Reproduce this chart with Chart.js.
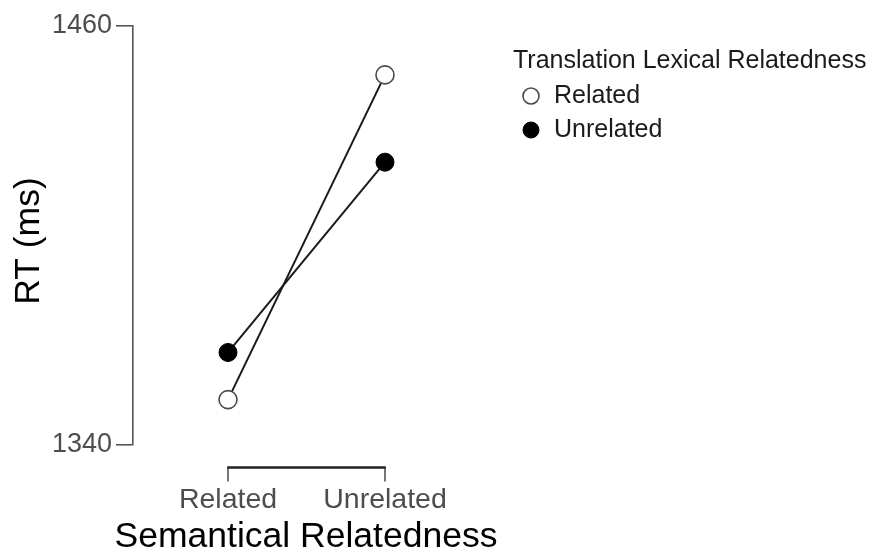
<!DOCTYPE html>
<html>
<head>
<meta charset="utf-8">
<script src="https://cdn.jsdelivr.net/npm/chart.js@4.4.1/dist/chart.umd.min.js"></script>
<style>
  html, body { margin: 0; padding: 0; background: #ffffff; }
  #wrap { width: 869px; height: 554px; }
</style>
</head>
<body>
<div id="wrap"><canvas id="c" width="869" height="554"></canvas></div>
<script>
// Semantic relatedness conditions (x axis)
const semanticLevels = ['Related', 'Unrelated'];
// Translation lexical relatedness groups (legend)
const translationLevels = ['Related', 'Unrelated'];
// Mean RT (ms) per semantic condition, one array per translation group
const rtTranslationRelated = [1353, 1446];
const rtTranslationUnrelated = [1366.5, 1421];
// Y axis range and tick labels
const yTicks = [1340, 1460];

const FONT = '"Liberation Sans", Arial, Helvetica, sans-serif';
const INK = '#1a1a1a';
const GREY = '#4d4d4d';

const groupStyles = [
  { fill: '#ffffff', stroke: '#4a4a4a', strokeWidth: 1.6 },
  { fill: '#000000', stroke: '#000000', strokeWidth: 1 }
];
const groupValues = [rtTranslationRelated, rtTranslationUnrelated];

const datasets = translationLevels.map((name, g) => ({
  label: name,
  data: semanticLevels.map((s, i) => ({ x: i + 1, y: groupValues[g][i] })),
  borderColor: INK,
  borderWidth: 2,
  pointRadius: 9,
  pointHoverRadius: 9,
  pointBackgroundColor: groupStyles[g].fill,
  pointBorderColor: groupStyles[g].stroke,
  pointBorderWidth: groupStyles[g].strokeWidth,
  tension: 0
}));

// Axis titles, bracket-style x axis and the legend block
const decorations = {
  id: 'decorations',
  afterDraw(chart) {
    const ctx = chart.ctx;
    const xs = chart.scales.x;
    const x1 = xs.getPixelForValue(1);
    const x2 = xs.getPixelForValue(semanticLevels.length);
    ctx.save();

    // x axis drawn only across the category range
    const axisY = 467.5;
    ctx.strokeStyle = '#555555';
    ctx.lineWidth = 1.6;
    ctx.beginPath();
    ctx.moveTo(x1, axisY); ctx.lineTo(x1, axisY + 14);
    ctx.moveTo(x2, axisY); ctx.lineTo(x2, axisY + 14);
    ctx.stroke();
    ctx.strokeStyle = '#222222';
    ctx.lineWidth = 2.6;
    ctx.beginPath();
    ctx.moveTo(x1 - 0.8, axisY); ctx.lineTo(x2 + 0.8, axisY);
    ctx.stroke();

    // x tick labels
    ctx.fillStyle = GREY;
    ctx.font = '28.5px ' + FONT;
    ctx.textAlign = 'center';
    ctx.textBaseline = 'middle';
    semanticLevels.forEach((lab, i) => {
      ctx.fillText(lab, xs.getPixelForValue(i + 1), 500);
    });

    // axis titles
    ctx.fillStyle = '#000000';
    ctx.font = '35.5px ' + FONT;
    ctx.fillText('Semantical Relatedness', 306, 537);
    ctx.save();
    ctx.translate(29, 241);
    ctx.rotate(-Math.PI / 2);
    ctx.fillText('RT (ms)', 0, 0);
    ctx.restore();

    // legend
    ctx.textAlign = 'left';
    ctx.fillStyle = INK;
    ctx.font = '25px ' + FONT;
    ctx.fillText('Translation Lexical Relatedness', 513, 61);
    translationLevels.forEach((lab, g) => {
      const cy = 96 + g * 34;
      ctx.beginPath();
      ctx.arc(531, cy, 8, 0, Math.PI * 2);
      ctx.fillStyle = groupStyles[g].fill;
      ctx.fill();
      ctx.lineWidth = groupStyles[g].strokeWidth;
      ctx.strokeStyle = groupStyles[g].stroke;
      ctx.stroke();
      ctx.fillStyle = INK;
      ctx.fillText(lab, 554, cy);
    });
    ctx.restore();
  }
};

new Chart(document.getElementById('c'), {
  type: 'line',
  data: { datasets },
  options: {
    responsive: false,
    animation: false,
    devicePixelRatio: 1,
    layout: { padding: { left: 0, top: 26, right: 419, bottom: 109 } },
    plugins: { legend: { display: false }, tooltip: { enabled: false } },
    scales: {
      x: {
        type: 'linear',
        display: false,
        min: 0.3949,
        max: 2.4140
      },
      y: {
        type: 'linear',
        min: yTicks[0],
        max: yTicks[yTicks.length - 1],
        afterFit(scale) { scale.width = 133; },
        afterBuildTicks(scale) { scale.ticks = yTicks.map(v => ({ value: v })); },
        ticks: {
          color: GREY,
          font: { family: FONT, size: 27 },
          padding: 4,
          callback: (v) => String(v)
        },
        grid: {
          drawOnChartArea: false,
          drawTicks: true,
          tickLength: 17,
          color: '#555555',
          lineWidth: 1.6
        },
        border: { display: true, color: '#555555', width: 1.6 }
      }
    }
  },
  plugins: [decorations]
});
</script>
</body>
</html>
